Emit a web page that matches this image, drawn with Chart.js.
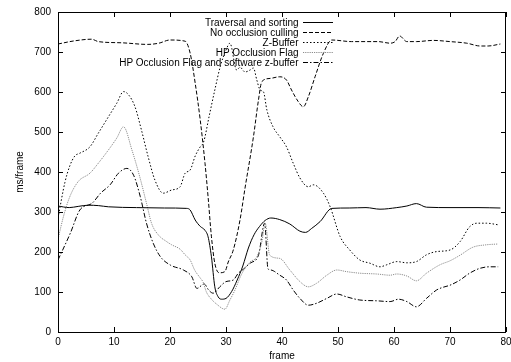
<!DOCTYPE html>
<html>
<head>
<meta charset="utf-8">
<script src="https://cdn.jsdelivr.net/npm/chart.js@4.4.1/dist/chart.umd.min.js"></script>
<style>
html,body{margin:0;padding:0;background:#fff;}
canvas{display:block;}
</style>
</head>
<body>
<canvas id="c" width="511" height="362"></canvas>
<script>
// ---- data ----
const xTicks = [0,10,20,30,40,50,60,70,80];
const yTicks = [0,100,200,300,400,500,600,700,800];

const seriesNames = [
  "Traversal and sorting",
  "No occlusion culling",
  "Z-Buffer",
  "HP Occlusion Flag",
  "HP Occlusion Flag and software z-buffer"
];

const travX = [0,2,3.6,5.4,7.2,9,14,19,23,23.6,24.5,25.4,26.2,26.8,27.4,28,28.6,29.2,30,31,32,33,34,35,36,37,38,39.6,41.4,43.2,44.2,45.3,46.8,48.9,52,55,57.5,60.5,62.3,64,65.8,70,75,79];
const travY = [315,311,314,317,316,313,311,310,309,305,280,264,255,238,188,113,88,82,84,101,130,165,210,243,264,279,285,281,270,252,249,259,276,309,310,311,307,311,315,321,312,311,311,310];

const noX = [0,3,6,7.2,11.4,16,18,20,22.7,23.6,24.5,25.4,26.25,26.8,27.4,28,28.8,29.8,30.4,31.3,32.5,33.4,34.9,35.8,36.4,37.9,39.6,40.8,41.7,42.9,43.8,44.7,45.9,47.4,48.9,52.4,57.2,59.3,60.2,61,62.3,64,67,70,73,75.4,76.8,79];
const noY = [720,728,732,726,723,719,722,730,727,697,622,530,422,338,238,172,148,151,175,205,280,360,488,580,626,634,638,630,605,576,563,588,638,697,730,726,726,722,726,740,726,726,729,726,722,715,715,720];

const zX = [0,1.25,2.1,3,3.9,5.7,7.2,9,10.5,11.7,12.6,13.75,14.9,16.1,17.3,18.8,20.3,21.8,22.7,23.6,24.5,25.4,26,27,28,29,30,30.7,31.9,32.5,33.4,34.3,34.9,35.5,36.1,36.7,37.3,38.4,39.6,40.8,42,43.2,44.7,45.6,47.4,48.6,50.4,52.1,53.9,55.7,57.5,58.7,60.5,62.3,64,65.8,67.6,70,71.8,73.5,74.8,76.5,78.6];
const zY = [285,375,415,440,447,463,497,538,572,601,593,563,505,438,380,347,355,363,397,405,440,463,475,540,605,665,705,722,655,662,650,655,660,630,605,600,555,513,488,463,422,385,363,368,347,313,238,205,180,172,163,168,176,173,176,193,201,205,226,263,272,272,268];

const hpX = [0,1,2.1,3.6,5.7,7.2,9,10.5,11.7,13.2,14.6,15.8,16.7,17.9,19.4,20.3,21.8,22.7,23.6,24.4,25.4,25.9,26.5,27.4,28.3,29.8,30.7,31.6,32.8,34.3,35.5,36.4,37,37.8,39.6,41.4,43.2,44.7,46.2,48,49.8,51.5,53.9,56.9,59.3,60.5,62.3,64,65.8,68.2,70,71.8,74.1,76.5,78.6];
const hpY = [232,290,338,376,397,422,455,485,513,455,388,322,272,243,226,218,207,193,180,155,135,125,100,82,70,57,80,105,145,175,188,225,272,192,184,155,126,113,122,142,155,151,147,145,142,145,140,128,147,168,178,192,212,218,220];

const ddX = [0,2.2,3.9,6.1,7.6,9.3,10.8,12.3,13.5,14.7,15.8,17,18.3,20.1,22.4,23.9,24.8,26.1,26.9,27.7,28.9,30,31.3,32.2,33.1,34.3,35.8,36.9,37.5,38,39.6,40.8,42,43.2,44.7,46.2,48,49.8,51.5,53.9,56.9,59.3,60.8,62.3,64,65.8,67.6,68.8,70,71.8,73.5,75.3,77.1,78.6];
const ddY = [180,247,305,322,347,368,397,409,392,338,272,222,188,167,155,138,109,120,105,97,113,126,130,147,157,172,192,272,158,155,142,130,105,84,67,72,84,95,88,80,78,76,82,76,63,84,105,112,117,130,147,159,163,163];

// ---- chart ----
const FONT = "'Liberation Sans', Arial, Helvetica, sans-serif";
Chart.defaults.font.family = FONT;
Chart.defaults.font.size = 10;
Chart.defaults.color = '#000';

function pts(xs, ys){ return xs.map((x,i)=>({x:x, y:ys[i]})); }

const styles = [
  {color:'#000', dash:[]},
  {color:'#000', dash:[4,2]},
  {color:'#000', dash:[1.5,2]},
  {color:'#8c8c8c', dash:[1.2,1]},
  {color:'#000', dash:[5,2,1.5,2]}
];
const sets = [[travX,travY],[noX,noY],[zX,zY],[hpX,hpY],[ddX,ddY]];

const datasets = sets.map((s,i)=>({
  label: seriesNames[i],
  data: pts(s[0], s[1]),
  borderColor: styles[i].color,
  borderDash: styles[i].dash,
  borderWidth: 1,
  pointRadius: 0,
  fill: false,
  cubicInterpolationMode: 'monotone'
}));

const framePlugin = {
  id: 'frame',
  afterDraw(chart){
    const ctx = chart.ctx, a = chart.chartArea;
    const xs = chart.scales.x, ys = chart.scales.y;
    ctx.save();
    ctx.strokeStyle = '#000';
    ctx.lineWidth = 1;
    ctx.setLineDash([]);
    ctx.strokeRect(Math.round(a.left)+0.5, Math.round(a.top)+0.5, Math.round(a.right-a.left)-1, Math.round(a.bottom-a.top));
    const L = 5;
    ctx.beginPath();
    xTicks.forEach(v=>{
      const px = Math.round(xs.getPixelForValue(v))+0.5;
      ctx.moveTo(px, a.bottom); ctx.lineTo(px, a.bottom-L);
      ctx.moveTo(px, a.top); ctx.lineTo(px, a.top+L);
    });
    yTicks.forEach(v=>{
      const py = Math.round(ys.getPixelForValue(v))+0.5;
      ctx.moveTo(a.left, py); ctx.lineTo(a.left+L, py);
      ctx.moveTo(a.right, py); ctx.lineTo(a.right-L, py);
    });
    ctx.stroke();
    // legend (gnuplot style key)
    ctx.font = '10px ' + FONT;
    ctx.textAlign = 'right';
    ctx.textBaseline = 'middle';
    chart.data.datasets.forEach((d,i)=>{
      const y = 22.5 + i*10;
      ctx.fillStyle = '#000';
      ctx.fillText(d.label, 298.5, y+0.5);
      ctx.beginPath();
      ctx.strokeStyle = d.borderColor;
      ctx.setLineDash(d.borderDash);
      ctx.moveTo(303, y); ctx.lineTo(333, y);
      ctx.stroke();
    });
    ctx.restore();
  }
};

new Chart(document.getElementById('c'), {
  type: 'line',
  data: { datasets: datasets },
  options: {
    responsive: false,
    animation: false,
    devicePixelRatio: 1,
    layout: { padding: { left: 0, right: 5, top: 12, bottom: 0 } },
    plugins: { legend: { display: false }, tooltip: { enabled: false } },
    scales: {
      x: {
        type: 'linear', min: 0, max: 80,
        afterBuildTicks(s){ s.ticks = xTicks.map(v=>({value:v})); },
        afterFit(s){ s.height = 30; s.paddingLeft = 0; s.paddingRight = 0; },
        grid: { display: false, drawTicks: false },
        border: { display: false },
        ticks: { padding: 4, maxRotation: 0, autoSkip: false, font: { size: 10 }, color: '#000' },
        title: { display: true, text: 'frame', font: { size: 10 }, color: '#000', padding: { top: 0, bottom: 0 } }
      },
      y: {
        type: 'linear', min: 0, max: 800,
        afterBuildTicks(s){ s.ticks = yTicks.map(v=>({value:v})); },
        afterFit(s){ s.width = 58; s.paddingTop = 0; s.paddingBottom = 0; },
        grid: { display: false, drawTicks: false },
        border: { display: false },
        ticks: { padding: 7, autoSkip: false, font: { size: 10 }, color: '#000' },
        title: { display: true, text: 'ms/frame', font: { size: 10 }, color: '#000', padding: { top: 14, bottom: 0 } }
      }
    }
  },
  plugins: [framePlugin]
});
</script>
</body>
</html>
